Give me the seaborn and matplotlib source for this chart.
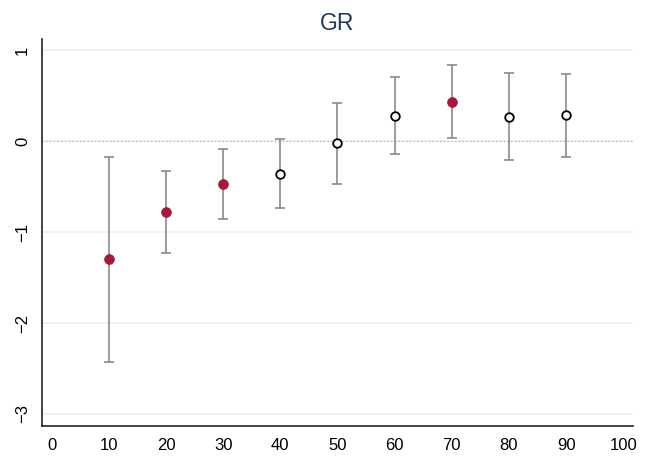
import matplotlib
matplotlib.use("Agg")
import matplotlib.pyplot as plt
import seaborn as sns
import pandas as pd
import numpy as np

# Estimates by percentile with 95% confidence bounds
percentile = [10, 20, 30, 40, 50, 60, 70, 80, 90]
estimate = [-1.30, -0.78, -0.476, -0.36, -0.025, 0.28, 0.43, 0.27, 0.29]
lower = [-2.43, -1.23, -0.86, -0.74, -0.47, -0.146, 0.03, -0.21, -0.17]
upper = [-0.18, -0.33, -0.088, 0.025, 0.42, 0.71, 0.84, 0.75, 0.74]

x_ticks = [0, 10, 20, 30, 40, 50, 60, 70, 80, 90, 100]
y_ticks = [1, 0, -1, -2, -3]

df = pd.DataFrame({"pct": percentile, "est": estimate, "lo": lower, "hi": upper})
df["significant"] = (df["lo"] > 0) | (df["hi"] < 0)

sns.set_style("white")
plt.rcParams["font.family"] = ["Liberation Sans", "DejaVu Sans"]

fig = plt.figure(figsize=(6.54, 4.57), dpi=100)
ax = fig.add_axes([0.0638, 0.0685, 0.904, 0.8455])

# light horizontal grid and dotted zero reference
for yv in y_ticks:
    ax.axhline(yv, color="#eaf2f3", lw=1.3, zorder=0)
ax.axhline(0, color="#a9b4b8", lw=0.9, ls=(0, (1, 2)), zorder=1)

ax.errorbar(df["pct"], df["est"],
            yerr=[df["est"] - df["lo"], df["hi"] - df["est"]],
            fmt="none", ecolor="#8a8a8a", elinewidth=1.2, capsize=3.5,
            capthick=1.2, zorder=2)

sig = df[df["significant"]]
nonsig = df[~df["significant"]]
sns.scatterplot(data=sig, x="pct", y="est", ax=ax, color="#a5173b",
                s=50, edgecolor="#a5173b", linewidth=0.5, zorder=3)
sns.scatterplot(data=nonsig, x="pct", y="est", ax=ax, facecolor="white",
                s=38, edgecolor="black", linewidth=1.3, zorder=3)

ax.set_xlim(-1.75, 101.7)
ax.set_ylim(-3.13, 1.12)
ax.set_xticks(x_ticks)
ax.set_yticks(y_ticks)
ax.set_xlabel("")
ax.set_ylabel("")
ax.tick_params(axis="both", length=4.5, width=1, color="#555555",
               labelsize=12, labelcolor="black", direction="out", pad=4)
for lab in ax.get_yticklabels():
    lab.set_rotation(90)
    lab.set_va("center")

for side in ["top", "right"]:
    ax.spines[side].set_visible(False)
for side in ["left", "bottom"]:
    ax.spines[side].set_color("#111111")
    ax.spines[side].set_linewidth(1.1)

ax.set_title("GR", fontsize=16.5, color="#1f3a5f", pad=7)

fig.savefig("out.png", dpi=100)
